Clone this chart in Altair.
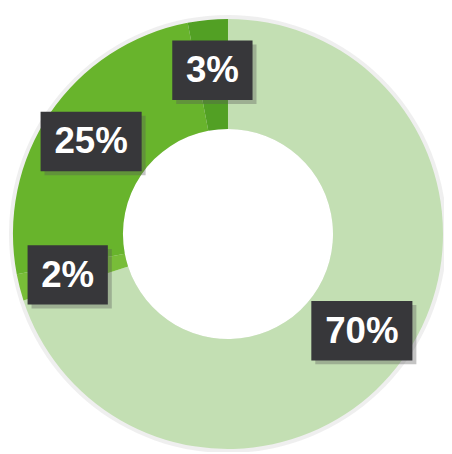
import altair as alt
import pandas as pd

labels = ["70%", "2%", "25%", "3%"]
values = [70, 2, 25, 3]
colors = ["#c3dfb3", "#78bd38", "#68b42c", "#52a024"]

df = pd.DataFrame({"idx": list(range(len(values))), "label": labels, "value": values})

base = alt.Chart(df)

shadow = base.mark_arc(innerRadius=106, outerRadius=221, color="#e4e4e4", opacity=0.6).encode(
    theta=alt.Theta("value:Q", stack=True),
    order=alt.Order("idx:Q"),
)

ring = base.mark_arc(innerRadius=106, outerRadius=217).encode(
    theta=alt.Theta("value:Q", stack=True),
    order=alt.Order("idx:Q"),
    color=alt.Color("label:N", scale=alt.Scale(domain=labels, range=colors), legend=None),
)

pos = (
    base.transform_window(cum="sum(value)", sort=[alt.SortField("idx")], frame=[None, 0])
    .transform_calculate(mid="(datum.cum - datum.value / 2) / 100 * 2 * PI")
    .transform_calculate(
        cx="sin(datum.mid) * 167",
        cy="cos(datum.mid) * 166",
        hw="(39 + 21 * length(datum.label)) / 2",
    )
    .transform_calculate(
        x1="datum.cx - datum.hw",
        x2="datum.cx + datum.hw",
        y1="datum.cy - 30",
        y2="datum.cy + 30",
        sx1="datum.cx - datum.hw + 4",
        sx2="datum.cx + datum.hw + 4",
        sy1="datum.cy - 34",
        sy2="datum.cy + 26",
    )
)

xs = alt.Scale(domain=[-218, 218])
ys = alt.Scale(domain=[-218, 218])

box_shadow = pos.mark_rect(color="#555555", opacity=0.35).encode(
    x=alt.X("sx1:Q", scale=xs, axis=None),
    x2="sx2:Q",
    y=alt.Y("sy1:Q", scale=ys, axis=None),
    y2="sy2:Q",
)

boxes = pos.mark_rect(color="#37373a").encode(
    x=alt.X("x1:Q", scale=xs, axis=None),
    x2="x2:Q",
    y=alt.Y("y1:Q", scale=ys, axis=None),
    y2="y2:Q",
)

texts = pos.mark_text(
    color="white", fontSize=37, fontWeight="bold", font="Liberation Sans",
    align="center", baseline="middle", dy=1,
).encode(
    x=alt.X("cx:Q", scale=xs, axis=None),
    y=alt.Y("cy:Q", scale=ys, axis=None),
    text="label:N",
)

chart = (
    alt.layer(shadow, ring, box_shadow, boxes, texts)
    .properties(
        width=436,
        height=436,
        padding={"left": 4, "top": 8, "right": 0, "bottom": 0},
        autosize=alt.AutoSizeParams(type="none"),
        background="white",
    )
    .configure_view(stroke=None)
)

chart.save("out.html", embed_options={"renderer": "svg", "actions": False})
